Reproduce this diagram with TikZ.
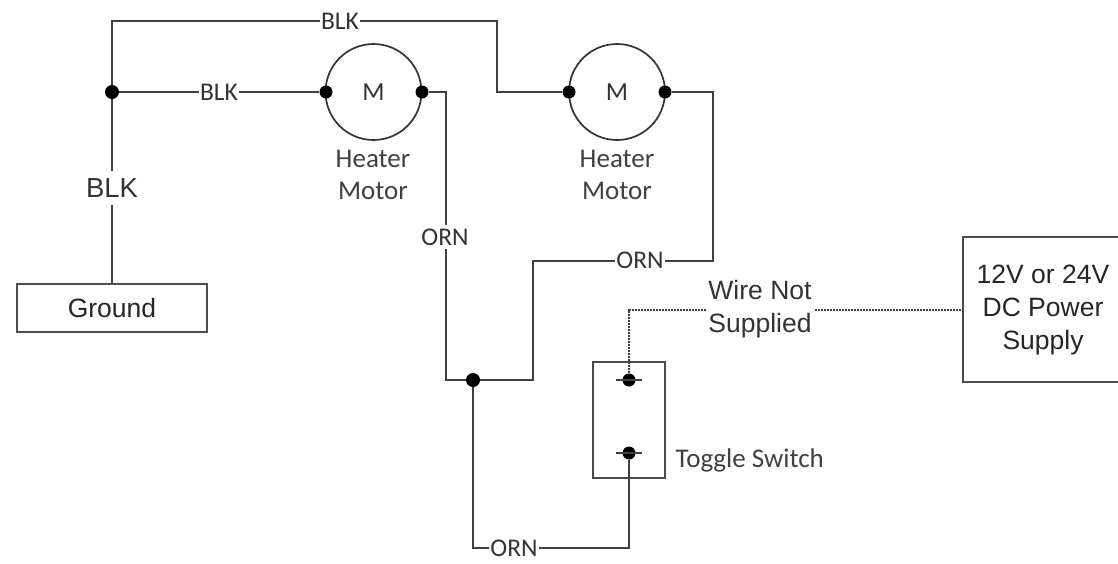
\documentclass[tikz,border=0pt]{standalone}
\usepackage{fontspec}
\setmainfont{Liberation Sans}
\newfontfamily\carlitofam{Carlito}
\tikzset{
  wire/.style={draw=black!75,line width=1.8pt},
  dotwire/.style={draw=black!75,line width=1.8pt,dash pattern=on 2pt off 1pt},
  dotj/.style={circle,fill=black,inner sep=0pt,minimum size=14pt},
  dots/.style={circle,fill=black,inner sep=0pt,minimum size=13pt},
  motor/.style={circle,draw=black!80,line width=1.7pt,minimum size=96pt,inner sep=0pt,font=\carlitofam\fontsize{26}{26}\selectfont,text=black!80},
  box/.style={draw=black!70,line width=1.5pt,fill=white,inner sep=0pt,text=black!85},
  wl/.style={fill=white,inner sep=1pt,minimum height=24pt,text=black!80,font=\carlitofam\fontsize{25.5}{25.5}\selectfont},
  wlbig/.style={fill=white,inner sep=1pt,minimum height=34pt,text=black!80,font=\fontsize{27.5}{27.5}\selectfont},
  captext/.style={text=black!75,align=center,font=\carlitofam\fontsize{27}{32}\selectfont},
}
\begin{document}
\begin{tikzpicture}[x=1pt,y=-1pt]
\useasboundingbox[fill=white] (0,0) rectangle (1118,563);
\node[motor] (m1) at (373.5,92) {M};
\node[motor] (m2) at (617,92) {M};
\node[dots] (m1l) at (326,92) {};
\node[dots] (m1r) at (422,92) {};
\node[dots] (m2l) at (569,92) {};
\node[dots] (m2r) at (665,92) {};
\node[dotj] (j1) at (112,92) {};
\node[dotj] (j2) at (473,380) {};
\node[box,minimum width=190pt,minimum height=48pt,font=\fontsize{26.5}{26.5}\selectfont] (gnd) at (112,308) {Ground};
\node[box,minimum width=72pt,minimum height=116pt] (sw) at (629,420) {};
\node[box,minimum width=160pt,minimum height=145pt,align=center,font=\fontsize{26.5}{33}\selectfont] (ps) at (1043,309.5) {12V or 24V\\DC Power\\Supply};
\node[dots] (t1) at (629,380) {};
\node[dots] (t2) at (629,453) {};
\coordinate (tl1) at (616,380); \coordinate (tr1) at (642,380);
\coordinate (tl2) at (616,453); \coordinate (tr2) at (642,453);
\draw[wire] (j1) -- (112,21) -- (497,21) -- (497,92) -- (m2l);
\draw[wire] (j1) -- (m1l);
\draw[wire] (j1) -- (gnd.north -| j1);
\draw[wire] (m1r) -- (446,92) -- (446,380) -- (j2);
\draw[wire] (j2) -- (533,380) -- (533,261) -- (713,261) -- (713,92) -- (m2r);
\draw[wire] (j2) -- (473,548) -- (629,548) -- (t2);
\draw[wire] (tl1) -- (tr1);
\draw[wire] (tl2) -- (tr2);
\draw[dotwire] (t1) -- (629,310) -- (ps.west |- 0,310);
\node[wl] (l1) at (340,21) {BLK};
\node[wl] (l2) at (219,92) {BLK};
\node[wlbig] (l3) at (112,188) {BLK};
\node[wl] (l4) at (445,237) {ORN};
\node[wl] (l5) at (640,260) {ORN};
\node[wl] (l6) at (514,548) {ORN};
\node[fill=white,inner sep=2pt,align=center,text=black!80,font=\fontsize{26.5}{33}\selectfont] (wns) at (760,309) {Wire Not\\Supplied};
\node[captext] (c1) at (373,175) {Heater\\Motor};
\node[captext] (c2) at (617,175) {Heater\\Motor};
\node[captext,anchor=west] (c3) at (672,460) {Toggle Switch};
\end{tikzpicture}
\end{document}
